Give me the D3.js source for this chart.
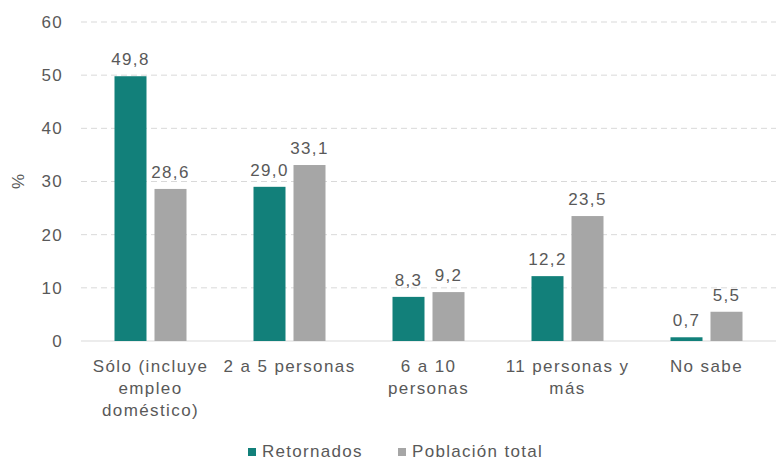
<!DOCTYPE html>
<html>
<head>
<meta charset="utf-8">
<script src="https://cdn.jsdelivr.net/npm/d3@7"></script>
<style>
  body { margin: 0; background: #fff; }
  text { font-family: "Liberation Sans", Arial, sans-serif; fill: #595959; }
</style>
</head>
<body>
<svg width="776" height="463"></svg>
<script>
const categories = [
  ["Sólo (incluye", "empleo", "doméstico)"],
  ["2 a 5 personas"],
  ["6 a 10", "personas"],
  ["11 personas y", "más"],
  ["No sabe"]
];
const seriesNames = ["Retornados", "Población total"];
const retornados = [49.8, 29.0, 8.3, 12.2, 0.7];
const poblacionTotal = [28.6, 33.1, 9.2, 23.5, 5.5];
const yTicks = [0, 10, 20, 30, 40, 50, 60];

const colors = ["#12807a", "#a6a6a6"];

const svg = d3.select("svg"),
  margin = { top: 22, right: 0, bottom: 122, left: 81 },
  width = +svg.attr("width") - margin.left - margin.right,
  height = +svg.attr("height") - margin.top - margin.bottom,
  g = svg.append("g").attr("transform", `translate(${margin.left},${margin.top})`);

const idx = d3.range(categories.length);
const x = d3.scaleBand().domain(idx).range([0, width]).padding(0);
const y = d3.scaleLinear().domain([0, 60]).range([height, 0]);

const barW = 32, gap = 8;
const offsets = [-gap / 2 - barW, gap / 2];

// gridlines
g.selectAll(".grid")
  .data(yTicks.filter((t) => t > 0))
  .enter()
  .append("line")
  .attr("x1", 0)
  .attr("x2", width)
  .attr("y1", (d) => y(d))
  .attr("y2", (d) => y(d))
  .attr("stroke", "#d9d9d9")
  .attr("stroke-width", 1)
  .attr("stroke-dasharray", "6,4");

// y axis labels
const yAxis = g.append("g").call(d3.axisLeft(y).tickValues(yTicks).tickSize(0).tickPadding(18));
yAxis.select(".domain").remove();
yAxis.selectAll("text")
  .style("font-size", "17px")
  .style("letter-spacing", "1.3px")
  .style("fill", "#595959")
  .style("font-family", "Liberation Sans, Arial, sans-serif");

// baseline
g.append("line")
  .attr("x1", 0).attr("x2", width)
  .attr("y1", y(0)).attr("y2", y(0))
  .attr("stroke", "#d9d9d9").attr("stroke-width", 1);

// % label
svg.append("text")
  .attr("transform", `translate(24,${margin.top + y(30)}) rotate(-90)`)
  .attr("text-anchor", "middle")
  .style("font-size", "17px")
  .text("%");

const series = [retornados, poblacionTotal];
series.forEach((vals, s) => {
  g.selectAll(".bar" + s)
    .data(vals)
    .enter()
    .append("rect")
    .attr("x", (d, i) => x(i) + x.bandwidth() / 2 + offsets[s])
    .attr("y", (d) => y(d))
    .attr("width", barW)
    .attr("height", (d) => y(0) - y(d))
    .attr("fill", colors[s]);

  g.selectAll(".lbl" + s)
    .data(vals)
    .enter()
    .append("text")
    .attr("x", (d, i) => x(i) + x.bandwidth() / 2 + offsets[s] + barW / 2)
    .attr("y", (d) => y(d) - 11)
    .attr("text-anchor", "middle")
    .style("font-size", "17px")
    .style("letter-spacing", "1.3px")
    .text((d) => d.toFixed(1).replace(".", ","));
});

// category labels
const cat = g.selectAll(".cat")
  .data(categories)
  .enter()
  .append("text")
  .attr("text-anchor", "middle")
  .attr("transform", (d, i) => `translate(${x(i) + x.bandwidth() / 2},${height + 31})`)
  .style("font-size", "17px")
  .style("letter-spacing", "1.4px");
cat.selectAll("tspan")
  .data((d) => d)
  .enter()
  .append("tspan")
  .attr("x", 0)
  .attr("dy", (d, i) => (i === 0 ? 0 : 22))
  .text((d) => d);

// legend
const legend = svg.append("g").attr("transform", "translate(248,457)");
const legX = [0, 150];
seriesNames.forEach((name, i) => {
  legend.append("rect")
    .attr("x", legX[i]).attr("y", -9)
    .attr("width", 8).attr("height", 8)
    .attr("fill", colors[i]);
  legend.append("text")
    .attr("x", legX[i] + 14).attr("y", 0)
    .style("font-size", "17px")
    .style("letter-spacing", "1.3px")
    .text(name);
});
</script>
</body>
</html>
